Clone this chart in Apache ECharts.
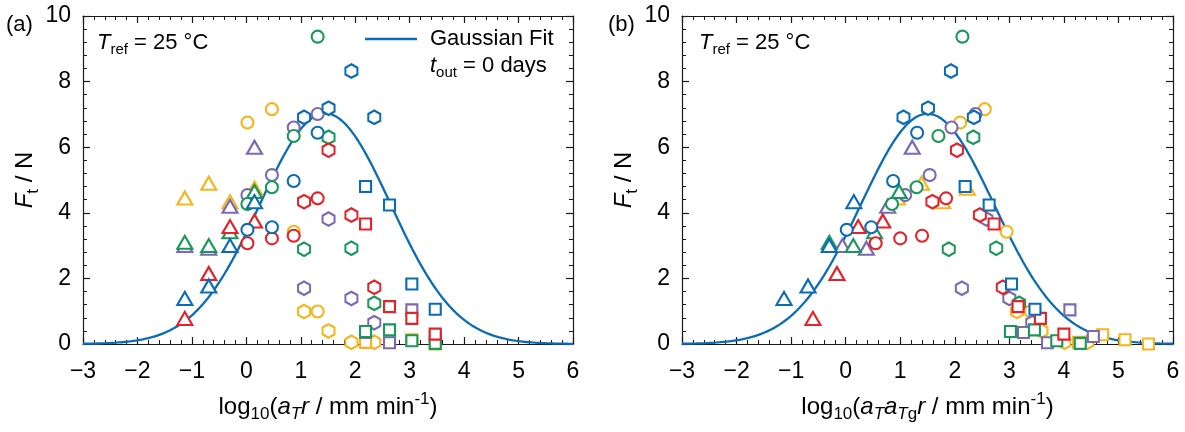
<!DOCTYPE html>
<html>
<head>
<meta charset="utf-8">
<script src="https://cdn.jsdelivr.net/npm/echarts@6/dist/echarts.min.js"></script>
<style>
  html, body { margin: 0; padding: 0; background: #ffffff; }
  #chart { width: 1185px; height: 432px; }
</style>
</head>
<body>
<div id="chart"></div>
<script>
// ---- Data -------------------------------------------------------------
// Materials, in drawing order (later ones are drawn on top)
const materialNames = ['yellow', 'purple', 'green', 'red', 'blue'];
const materialColors = ['#F5B51C', '#7A69B3', '#19985A', '#E2232A', '#0A6CB4'];
// Horizontal shift log10(a_Tg) applied to each material in panel (b)
const logATg = [2.08, 1.07, 0.83, 0.53, 0.00];

// log10(a_T r) of each test, grouped by marker shape
const triangleLogR = [-1.13, -0.69, -0.30, 0.15];
const circleLogR   = [0.02, 0.47, 0.87, 1.31];
const hexagonLogR  = [1.06, 1.51, 1.93, 2.35];
const squareLogR   = [2.19, 2.63, 3.04, 3.47];

// Measured force F_t (N); one row per material, same order as materialNames
const triangleF = [
  [4.45, 4.90, 4.34, 4.75],
  [3.00, 2.92, 4.20, 6.00],
  [3.10, 3.00, 3.42, 4.65],
  [0.78, 2.15, 3.58, 3.75],
  [1.39, 1.77, 3.00, 4.34]
];
const circleF = [
  [6.75, 7.16, 3.42, 0.99],
  [4.54, 5.15, 6.60, 7.01],
  [4.27, 4.78, 6.34, 9.37],
  [3.07, 3.22, 3.30, 4.44],
  [3.48, 3.56, 4.97, 6.44]
];
const hexagonF = [
  [0.99, 0.40, 0.05, 0.05],
  [1.70, 3.81, 1.39, 0.65],
  [2.89, 6.30, 2.92, 1.24],
  [4.34, 5.91, 3.93, 1.73],
  [6.91, 7.19, 8.32, 6.91]
];
const squareF = [
  [0.05, 0.28, 0.13, 0.00],
  [0.35, 0.04, 1.04, 0.23],
  [0.38, 0.43, 0.10, 0.02],
  [3.66, 1.14, 0.78, 0.30],
  [4.80, 4.24, 1.83, 1.06]
];

// Gaussian fit parameters for panels (a) and (b): amplitude, centre, width
const fitA  = [7.03, 7.02];
const fitXc = [1.45, 1.50];
const fitW  = [1.20, 1.22];

const xTickMin = -3, xTickMax = 6, xTickStep = 1;
const yTickMin = 0, yTickMax = 10, yTickStep = 2;

// ---- Styles -----------------------------------------------------------
const FONT = '"Liberation Sans", Arial, Helvetica, sans-serif';
const INK = '#1a1a1a';
const FIT_COLOR = '#0A6CB4';
const HEXAGON = 'path://M0,-10L8.66,-5L8.66,5L0,10L-8.66,5L-8.66,-5Z';
const markerStyles = [
  { symbol: 'triangle', symbolSize: [15, 13] },
  { symbol: 'circle', symbolSize: 12 },
  { symbol: HEXAGON, symbolSize: [12, 13.5] },
  { symbol: 'rect', symbolSize: 11 }
];
const logRByShape = [triangleLogR, circleLogR, hexagonLogR, squareLogR];
const fByShape = [triangleF, circleF, hexagonF, squareF];

// rich text for axis titles
const RICH_T = {
  n:  { fontSize: 24, fontFamily: FONT, color: '#000', lineHeight: 32 },
  i:  { fontSize: 24, fontFamily: FONT, color: '#000', lineHeight: 32, fontStyle: 'italic' },
  s:  { fontSize: 17, fontFamily: FONT, color: '#000', lineHeight: 17, verticalAlign: 'bottom' },
  si: { fontSize: 17, fontFamily: FONT, color: '#000', lineHeight: 17, verticalAlign: 'bottom', fontStyle: 'italic' },
  p:  { fontSize: 17, fontFamily: FONT, color: '#000', lineHeight: 17, verticalAlign: 'top' }
};
// rich text for in-plot annotations
const RICH_A = {
  n:  { fontSize: 22, fontFamily: FONT, color: '#000', lineHeight: 28 },
  i:  { fontSize: 22, fontFamily: FONT, color: '#000', lineHeight: 28, fontStyle: 'italic' },
  s:  { fontSize: 15, fontFamily: FONT, color: '#000', lineHeight: 15, verticalAlign: 'bottom' }
};

const xNames = [
  '{n|log}{s|10}{n|(}{i|a}{si|T}{i|r}{n| / mm min}{p|-1}{n|)}',
  '{n|log}{s|10}{n|(}{i|a}{si|T}{i|a}{si|T}{s|g}{i|r}{n| / mm min}{p|-1}{n|)}'
];
const yName = '{i|F}{s|t}{n| / N}';

function minusSign(v) { return String(v).replace('-', '\u2212'); }

function makeXAxis(grid, onTop) {
  return {
    type: 'value', gridIndex: grid, position: onTop ? 'top' : 'bottom',
    min: xTickMin, max: xTickMax, interval: xTickStep,
    axisLine: { show: true, onZero: false, lineStyle: { color: INK, width: 1.2 } },
    axisTick: { show: true, inside: true, length: 7, lineStyle: { color: INK, width: 1.2 } },
    minorTick: { show: true, splitNumber: 5, length: 4, lineStyle: { color: INK, width: 1 } },
    axisLabel: { show: !onTop, margin: 16, fontSize: 23, fontFamily: FONT, color: '#000', formatter: minusSign },
    splitLine: { show: false }, minorSplitLine: { show: false },
    name: onTop ? '' : xNames[grid], nameLocation: 'middle', nameGap: 47,
    nameTextStyle: { rich: RICH_T }
  };
}
function makeYAxis(grid, onRight) {
  return {
    type: 'value', gridIndex: grid, position: onRight ? 'right' : 'left',
    min: yTickMin, max: yTickMax, interval: yTickStep,
    axisLine: { show: true, onZero: false, lineStyle: { color: INK, width: 1.2 } },
    axisTick: { show: true, inside: true, length: 7, lineStyle: { color: INK, width: 1.2 } },
    minorTick: { show: true, splitNumber: 5, length: 4, lineStyle: { color: INK, width: 1 } },
    axisLabel: { show: !onRight, margin: 12, fontSize: 23, fontFamily: FONT, color: '#000' },
    splitLine: { show: false }, minorSplitLine: { show: false },
    name: onRight ? '' : yName, nameLocation: 'middle', nameGap: 40, nameRotate: 90,
    nameTextStyle: { rich: RICH_T }
  };
}

// ---- Series -----------------------------------------------------------
const series = [];
[0, 1].forEach(function (p) {
  const curve = [];
  for (let x = xTickMin; x <= xTickMax + 1e-9; x += 0.05) {
    const d = x - fitXc[p];
    curve.push([x, fitA[p] * Math.exp(-d * d / (2 * fitW[p] * fitW[p]))]);
  }
  series.push({
    type: 'line', name: 'Gaussian Fit', xAxisIndex: p * 2, yAxisIndex: p * 2,
    data: curve, symbol: 'none', showSymbol: false, silent: true, z: 2,
    lineStyle: { color: FIT_COLOR, width: 2.3 }, itemStyle: { color: FIT_COLOR }
  });
});
[0, 1].forEach(function (p) {
  materialNames.forEach(function (name, m) {
    markerStyles.forEach(function (ms, s) {
      const pts = logRByShape[s].map(function (x, k) {
        return [x + (p === 1 ? logATg[m] : 0), fByShape[s][m][k]];
      });
      series.push({
        type: 'scatter', name: name, xAxisIndex: p * 2, yAxisIndex: p * 2,
        data: pts, symbol: ms.symbol, symbolSize: ms.symbolSize, silent: true, z: 3,
        itemStyle: { color: '#ffffff', borderColor: materialColors[m], borderWidth: 2.1, opacity: 1 }
      });
    });
  });
});

// ---- Chart ------------------------------------------------------------
const chart = echarts.init(document.getElementById('chart'), null, { renderer: 'canvas' });
chart.setOption({
  animation: false,
  backgroundColor: '#ffffff',
  grid: [
    { left: 83, top: 16, width: 490, height: 328 },
    { left: 682, top: 16, width: 491, height: 328 }
  ],
  xAxis: [makeXAxis(0, false), makeXAxis(0, true), makeXAxis(1, false), makeXAxis(1, true)],
  yAxis: [makeYAxis(0, false), makeYAxis(0, true), makeYAxis(1, false), makeYAxis(1, true)],
  legend: {
    data: [{ name: 'Gaussian Fit', icon: 'rect', itemStyle: { color: FIT_COLOR, borderWidth: 0 } }],
    left: 365, top: 28, padding: 0,
    itemWidth: 52, itemHeight: 2.4, selectedMode: false,
    textStyle: { fontSize: 22, fontFamily: FONT, color: '#000', padding: [0, 0, 0, 8] }
  },
  graphic: [
    { type: 'text', x: 6, y: 25, style: { text: '(a)', font: '22px ' + FONT, fill: '#000', verticalAlign: 'middle' } },
    { type: 'text', x: 608, y: 25, style: { text: '(b)', font: '22px ' + FONT, fill: '#000', verticalAlign: 'middle' } },
    { type: 'text', x: 97, y: 43, style: { text: '{i|T}{s|ref}{n| = 25 °C}', rich: RICH_A, verticalAlign: 'middle' } },
    { type: 'text', x: 699, y: 43, style: { text: '{i|T}{s|ref}{n| = 25 °C}', rich: RICH_A, verticalAlign: 'middle' } },
    { type: 'text', x: 430, y: 66, style: { text: '{i|t}{s|out}{n| = 0 days}', rich: RICH_A, verticalAlign: 'middle' } }
  ],
  series: series
});
</script>
</body>
</html>
